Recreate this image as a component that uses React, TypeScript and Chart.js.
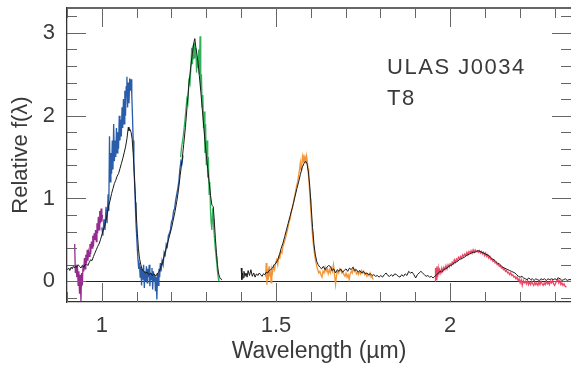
import React, { useEffect, useRef } from 'react';
import { Chart, registerables } from 'chart.js';
Chart.register(...registerables);

const X_MIN = 0.9;
const X_MAX = 2.347;
const Y_MIN = -0.25;
const Y_MAX = 3.3;
const xTickLabels = [1, 1.5, 2];
const yTickLabels = [0, 1, 2, 3];
const xTitle = 'Wavelength (µm)';
const yTitle = 'Relative f(λ)';
const labelLines = ['ULAS J0034', 'T8'];
const LABEL_X = 1.819;
const LABEL_Y = [2.5, 2.13];

// black comparison spectrum (two pieces, gap between them)
const blackA: [number, number][] = [
  [0.901, 0.14], [0.905, 0.16], [0.908, 0.13], [0.912, 0.17], [0.915, 0.15], [0.918, 0.18], [0.922, 0.16],
  [0.925, 0.19], [0.928, 0.17], [0.932, 0.2], [0.936, 0.18], [0.94, 0.16], [0.944, 0.19], [0.948, 0.17],
  [0.952, 0.2], [0.956, 0.21], [0.96, 0.19], [0.964, 0.23], [0.968, 0.26], [0.972, 0.25], [0.976, 0.3],
  [0.98, 0.34], [0.984, 0.38], [0.988, 0.42], [0.992, 0.45], [0.996, 0.5], [1.0, 0.56], [1.004, 0.62],
  [1.008, 0.66], [1.012, 0.74], [1.016, 0.82], [1.02, 0.92], [1.024, 0.98], [1.028, 1.06], [1.032, 1.12],
  [1.036, 1.18], [1.04, 1.22], [1.044, 1.27], [1.048, 1.3], [1.052, 1.36], [1.056, 1.42], [1.06, 1.48],
  [1.064, 1.55], [1.068, 1.62], [1.072, 1.72], [1.076, 1.86], [1.078, 1.82], [1.08, 1.84], [1.084, 1.8],
  [1.087, 1.72], [1.09, 1.55], [1.093, 1.3], [1.096, 1.05], [1.099, 0.8], [1.102, 0.58], [1.105, 0.4],
  [1.108, 0.28], [1.112, 0.2], [1.116, 0.14], [1.12, 0.12], [1.125, 0.1], [1.13, 0.11], [1.135, 0.08],
  [1.14, 0.1], [1.145, 0.07], [1.15, 0.09], [1.155, 0.06], [1.16, 0.1], [1.165, 0.12], [1.17, 0.18],
  [1.175, 0.24], [1.18, 0.32], [1.185, 0.4], [1.19, 0.48], [1.195, 0.56], [1.2, 0.64], [1.205, 0.74],
  [1.21, 0.84], [1.215, 0.96], [1.22, 1.1], [1.225, 1.28], [1.23, 1.45], [1.235, 1.65], [1.24, 1.86],
  [1.245, 2.12], [1.25, 2.38], [1.255, 2.58], [1.26, 2.75], [1.264, 2.88], [1.267, 2.93], [1.27, 2.82],
  [1.273, 2.74], [1.276, 2.65], [1.28, 2.48], [1.284, 2.3], [1.288, 2.1], [1.292, 1.9], [1.296, 1.7],
  [1.3, 1.52], [1.304, 1.36], [1.308, 1.2], [1.312, 1.04], [1.316, 0.92], [1.32, 0.9], [1.323, 0.72],
  [1.326, 0.52], [1.329, 0.35], [1.332, 0.2], [1.335, 0.1], [1.338, 0.05], [1.341, 0.03], [1.345, 0.02],
];

const blackB: [number, number][] = [
  [1.4, 0.16], [1.402, 0.02], [1.404, 0.1], [1.406, 0.04], [1.408, 0.12], [1.411, 0.06], [1.414, 0.1],
  [1.417, 0.05], [1.42, 0.13], [1.424, 0.07], [1.428, 0.14], [1.432, 0.06], [1.436, 0.1], [1.44, 0.05],
  [1.444, 0.09], [1.448, 0.07], [1.452, 0.1], [1.456, 0.08], [1.46, 0.06], [1.464, 0.09], [1.468, 0.08],
  [1.472, 0.11], [1.476, 0.1], [1.48, 0.13], [1.485, 0.14], [1.49, 0.16], [1.495, 0.2], [1.5, 0.22],
  [1.505, 0.26], [1.51, 0.32], [1.515, 0.4], [1.52, 0.46], [1.525, 0.54], [1.53, 0.62], [1.535, 0.7],
  [1.54, 0.78], [1.545, 0.86], [1.55, 0.94], [1.555, 1.03], [1.56, 1.12], [1.565, 1.2], [1.57, 1.29],
  [1.575, 1.37], [1.58, 1.42], [1.585, 1.45], [1.589, 1.42], [1.593, 1.32], [1.597, 1.15], [1.601, 0.9],
  [1.605, 0.65], [1.609, 0.45], [1.613, 0.32], [1.617, 0.24], [1.621, 0.2], [1.626, 0.17], [1.631, 0.15],
  [1.636, 0.18], [1.641, 0.14], [1.646, 0.17], [1.651, 0.19], [1.656, 0.18], [1.661, 0.13], [1.666, 0.15],
  [1.671, 0.1], [1.676, 0.14], [1.681, 0.12], [1.686, 0.15], [1.691, 0.11], [1.696, 0.13], [1.701, 0.15],
  [1.706, 0.12], [1.711, 0.16], [1.716, 0.14], [1.721, 0.17], [1.726, 0.13], [1.731, 0.14], [1.736, 0.11],
  [1.741, 0.13], [1.746, 0.1], [1.751, 0.12], [1.756, 0.09], [1.761, 0.1], [1.766, 0.08], [1.771, 0.09],
  [1.776, 0.07], [1.781, 0.08], [1.786, 0.06], [1.791, 0.07], [1.796, 0.05], [1.801, 0.07], [1.806, 0.05],
  [1.811, 0.08], [1.816, 0.1], [1.821, 0.07], [1.826, 0.06], [1.831, 0.08], [1.836, 0.06], [1.841, 0.09],
  [1.846, 0.08], [1.851, 0.06], [1.856, 0.05], [1.861, 0.08], [1.866, 0.06], [1.871, 0.09], [1.876, 0.07],
  [1.881, 0.12], [1.886, 0.1], [1.891, 0.11], [1.896, 0.08], [1.901, 0.04], [1.906, 0.08], [1.911, 0.1],
  [1.916, 0.12], [1.921, 0.1], [1.926, 0.08], [1.931, 0.06], [1.936, 0.07], [1.941, 0.05], [1.946, 0.06],
  [1.951, 0.04], [1.956, 0.06], [1.961, 0.08], [1.966, 0.1], [1.971, 0.12], [1.976, 0.11], [1.981, 0.14],
  [1.986, 0.15], [1.991, 0.16], [1.996, 0.18], [2.001, 0.19], [2.006, 0.2], [2.011, 0.22], [2.016, 0.23],
  [2.021, 0.24], [2.026, 0.26], [2.031, 0.27], [2.036, 0.28], [2.041, 0.29], [2.046, 0.31], [2.051, 0.32],
  [2.056, 0.33], [2.061, 0.34], [2.066, 0.35], [2.071, 0.35], [2.076, 0.36], [2.081, 0.37], [2.086, 0.36],
  [2.091, 0.35], [2.096, 0.34], [2.101, 0.33], [2.106, 0.32], [2.111, 0.31], [2.116, 0.29], [2.121, 0.27],
  [2.126, 0.26], [2.131, 0.24], [2.136, 0.22], [2.141, 0.21], [2.146, 0.19], [2.151, 0.17], [2.156, 0.16],
  [2.161, 0.15], [2.166, 0.14], [2.171, 0.13], [2.176, 0.12], [2.181, 0.11], [2.186, 0.1], [2.191, 0.08],
  [2.196, 0.06], [2.201, 0.05], [2.206, 0.06], [2.211, 0.04], [2.216, 0.03], [2.221, 0.02], [2.226, 0.04],
  [2.231, 0.02], [2.236, 0.03], [2.241, 0.01], [2.246, 0.03], [2.251, 0.02], [2.256, 0.01], [2.261, 0.03],
  [2.266, 0.02], [2.271, 0.03], [2.276, 0.01], [2.281, 0.03], [2.286, 0.02], [2.291, 0.03], [2.296, 0.02],
  [2.301, 0.03], [2.306, 0.02], [2.311, 0.04], [2.316, 0.03], [2.321, 0.01], [2.326, 0.02], [2.331, 0.03],
  [2.336, 0.01], [2.341, 0.02], [2.347, 0.02],
];

const purple: [number, number][] = [
  [0.922, 0.45], [0.924, 0.1], [0.926, 0.2], [0.928, 0.05], [0.93, 0.18], [0.932, -0.05], [0.934, 0.12],
  [0.936, -0.15], [0.938, 0.08], [0.94, -0.24], [0.942, 0.1], [0.944, -0.05], [0.946, 0.2], [0.948, 0.12],
  [0.95, 0.28], [0.952, 0.15], [0.954, 0.32], [0.956, 0.22], [0.958, 0.38], [0.96, 0.25], [0.962, 0.35],
  [0.964, 0.3], [0.966, 0.45], [0.968, 0.33], [0.97, 0.48], [0.972, 0.4], [0.974, 0.55], [0.976, 0.42],
  [0.978, 0.58], [0.98, 0.5], [0.982, 0.62], [0.984, 0.48], [0.986, 0.7], [0.988, 0.58], [0.99, 0.78],
  [0.992, 0.62], [0.994, 0.85], [0.996, 0.7], [0.998, 0.88], [1.0, 0.72], [1.002, 0.8],
];

const blue: [number, number][] = [
  [1.0, 0.65], [1.003, 0.55], [1.006, 0.75], [1.009, 0.62], [1.012, 0.9], [1.015, 0.7], [1.018, 1.05],
  [1.02, 0.85], [1.022, 1.75], [1.024, 1.2], [1.026, 1.55], [1.028, 1.3], [1.03, 1.7], [1.032, 1.35],
  [1.034, 1.9], [1.036, 1.45], [1.038, 1.7], [1.04, 1.5], [1.042, 1.85], [1.044, 1.55], [1.046, 1.8],
  [1.048, 1.6], [1.05, 2.0], [1.052, 1.7], [1.054, 1.95], [1.056, 1.75], [1.058, 2.1], [1.06, 1.85],
  [1.062, 2.2], [1.064, 1.9], [1.066, 2.3], [1.068, 2.0], [1.07, 2.35], [1.072, 2.47], [1.074, 2.1],
  [1.076, 2.4], [1.078, 2.15], [1.08, 2.45], [1.082, 2.3], [1.084, 2.44], [1.086, 2.25], [1.088, 2.0],
  [1.09, 1.7], [1.092, 1.45], [1.094, 1.2], [1.096, 0.95], [1.098, 0.7], [1.1, 0.55], [1.102, 0.38],
  [1.104, 0.25], [1.106, 0.15], [1.108, 0.22], [1.11, 0.05], [1.112, 0.18], [1.114, -0.05], [1.116, 0.15],
  [1.118, 0.02], [1.12, 0.2], [1.122, -0.08], [1.124, 0.12], [1.126, 0.0], [1.128, 0.18], [1.13, -0.02],
  [1.132, 0.15], [1.134, 0.05], [1.136, 0.2], [1.138, -0.06], [1.14, 0.1], [1.142, 0.02], [1.144, 0.16],
  [1.146, -0.1], [1.148, 0.12], [1.15, 0.0], [1.152, 0.08], [1.154, -0.12], [1.156, 0.05], [1.158, -0.22],
  [1.16, 0.1], [1.162, -0.05], [1.164, 0.15], [1.166, 0.05], [1.168, 0.22], [1.17, 0.12], [1.173, 0.25],
  [1.176, 0.2], [1.179, 0.35], [1.182, 0.32], [1.185, 0.45], [1.188, 0.42], [1.191, 0.55], [1.194, 0.58],
  [1.197, 0.62], [1.2, 0.72], [1.203, 0.75], [1.206, 0.85], [1.209, 0.88], [1.212, 0.98], [1.215, 1.05],
  [1.218, 1.12], [1.221, 1.2], [1.224, 1.35], [1.227, 1.45], [1.23, 1.42], [1.233, 1.52],
];

const green: [number, number][] = [
  [1.226, 1.5], [1.229, 1.62], [1.232, 1.7], [1.235, 1.8], [1.238, 1.92], [1.241, 2.05], [1.244, 2.2],
  [1.247, 2.15], [1.25, 2.42], [1.253, 2.38], [1.256, 2.6], [1.258, 2.82], [1.26, 2.62], [1.262, 2.85],
  [1.264, 2.68], [1.266, 2.88], [1.268, 2.7], [1.27, 2.82], [1.272, 2.52], [1.274, 2.7], [1.276, 2.58],
  [1.278, 2.8], [1.28, 2.5], [1.282, 2.96], [1.284, 2.3], [1.286, 2.5], [1.288, 2.1], [1.29, 2.25],
  [1.292, 1.85], [1.294, 2.05], [1.296, 1.55], [1.298, 1.9], [1.3, 1.4], [1.302, 1.7], [1.304, 1.25],
  [1.306, 1.5], [1.308, 1.05], [1.31, 1.2], [1.312, 0.85], [1.314, 0.7], [1.316, 0.62], [1.318, 0.88],
  [1.32, 0.75], [1.322, 0.6], [1.324, 0.48], [1.326, 0.38], [1.328, 0.3], [1.33, 0.22], [1.332, 0.12],
  [1.334, 0.05], [1.336, 0.0],
];

const orange: [number, number][] = [
  [1.47, 0.05], [1.472, 0.22], [1.474, -0.04], [1.476, 0.15], [1.478, 0.02], [1.48, 0.18], [1.482, 0.06],
  [1.484, 0.12], [1.486, -0.02], [1.488, 0.14], [1.49, 0.1], [1.493, 0.18], [1.496, 0.14], [1.499, 0.22],
  [1.502, 0.26], [1.505, 0.2], [1.508, 0.3], [1.511, 0.28], [1.514, 0.36], [1.517, 0.34], [1.52, 0.42],
  [1.523, 0.46], [1.526, 0.5], [1.529, 0.55], [1.532, 0.6], [1.535, 0.66], [1.538, 0.72], [1.541, 0.76],
  [1.544, 0.84], [1.547, 0.88], [1.55, 0.95], [1.553, 1.02], [1.556, 1.08], [1.559, 1.15], [1.562, 1.2],
  [1.565, 1.28], [1.568, 1.36], [1.57, 1.43], [1.572, 1.35], [1.574, 1.4], [1.576, 1.5], [1.578, 1.44],
  [1.58, 1.53], [1.582, 1.46], [1.584, 1.49], [1.586, 1.42], [1.588, 1.51], [1.59, 1.45], [1.592, 1.36],
  [1.594, 1.25], [1.596, 1.12], [1.598, 1.0], [1.6, 0.86], [1.602, 0.72], [1.604, 0.6], [1.606, 0.5],
  [1.608, 0.42], [1.611, 0.32], [1.614, 0.24], [1.617, 0.18], [1.62, 0.14], [1.623, 0.1], [1.626, 0.12],
  [1.629, 0.08], [1.632, 0.05], [1.635, 0.12], [1.638, 0.1], [1.641, 0.17], [1.644, 0.12], [1.647, 0.15],
  [1.65, 0.09], [1.653, 0.14], [1.656, 0.1], [1.659, 0.16], [1.662, 0.12], [1.665, 0.2], [1.668, 0.08],
  [1.671, -0.04], [1.674, 0.08], [1.677, 0.12], [1.68, 0.1], [1.683, 0.15], [1.686, 0.13], [1.689, 0.1],
  [1.692, 0.12], [1.695, 0.08], [1.698, 0.06], [1.701, 0.1], [1.704, 0.05], [1.707, 0.08], [1.71, 0.02],
  [1.713, 0.09], [1.716, 0.12], [1.719, 0.1], [1.722, 0.16], [1.725, 0.12], [1.728, 0.14], [1.731, 0.09],
  [1.734, 0.11], [1.737, 0.08], [1.74, 0.12], [1.743, 0.09], [1.746, 0.13], [1.749, 0.1], [1.752, 0.12],
  [1.755, 0.08], [1.758, 0.1], [1.761, 0.06], [1.764, 0.09], [1.767, 0.07], [1.77, 0.1], [1.773, 0.05],
  [1.776, 0.06], [1.779, 0.02],
];

const red: [number, number][] = [
  [1.957, 0.0], [1.958, 0.16], [1.96, 0.02], [1.962, 0.18], [1.964, 0.05], [1.966, 0.15], [1.968, 0.08],
  [1.97, 0.14], [1.973, 0.1], [1.976, 0.16], [1.979, 0.12], [1.982, 0.17], [1.985, 0.14], [1.988, 0.19],
  [1.991, 0.15], [1.994, 0.2], [1.997, 0.17], [2.0, 0.21], [2.003, 0.19], [2.006, 0.23], [2.009, 0.21],
  [2.012, 0.26], [2.015, 0.23], [2.018, 0.27], [2.021, 0.25], [2.024, 0.29], [2.027, 0.27], [2.03, 0.3],
  [2.033, 0.28], [2.036, 0.32], [2.039, 0.3], [2.042, 0.33], [2.045, 0.31], [2.048, 0.35], [2.051, 0.32],
  [2.054, 0.36], [2.057, 0.34], [2.06, 0.37], [2.063, 0.34], [2.066, 0.38], [2.069, 0.35], [2.072, 0.38],
  [2.075, 0.36], [2.078, 0.37], [2.081, 0.35], [2.084, 0.37], [2.087, 0.34], [2.09, 0.36], [2.093, 0.33],
  [2.096, 0.35], [2.099, 0.31], [2.102, 0.34], [2.105, 0.3], [2.108, 0.32], [2.111, 0.28], [2.114, 0.3],
  [2.117, 0.26], [2.12, 0.27], [2.123, 0.24], [2.126, 0.25], [2.129, 0.22], [2.132, 0.23], [2.135, 0.2],
  [2.138, 0.21], [2.141, 0.18], [2.144, 0.19], [2.147, 0.16], [2.15, 0.17], [2.153, 0.14], [2.156, 0.15],
  [2.159, 0.12], [2.162, 0.13], [2.165, 0.1], [2.168, 0.11], [2.171, 0.08], [2.174, 0.1], [2.177, 0.07],
  [2.18, 0.08], [2.183, 0.05], [2.186, 0.06], [2.189, 0.03], [2.192, 0.05], [2.195, 0.01], [2.198, 0.03],
  [2.201, -0.02], [2.204, 0.02], [2.207, -0.05], [2.21, 0.01], [2.213, -0.02], [2.216, 0.0], [2.219, -0.03],
  [2.222, 0.01], [2.225, -0.04], [2.228, -0.01], [2.231, -0.04], [2.234, 0.0], [2.237, -0.03], [2.24, -0.05],
  [2.243, -0.01], [2.246, -0.04], [2.249, -0.02], [2.252, -0.05], [2.255, -0.01], [2.258, -0.04], [2.261, 0.0],
  [2.264, -0.03], [2.267, -0.05], [2.27, -0.02], [2.273, -0.04], [2.276, 0.0], [2.279, -0.03], [2.282, -0.01],
  [2.285, -0.04], [2.288, 0.0], [2.291, -0.02], [2.294, 0.01], [2.297, -0.03], [2.3, -0.05], [2.303, -0.02],
  [2.306, 0.0], [2.309, 0.03], [2.312, -0.02], [2.315, 0.01], [2.318, -0.04], [2.321, -0.02], [2.324, -0.05],
  [2.327, -0.03], [2.33, -0.06], [2.334, -0.07],
];

const FONT = "'Liberation Sans', Arial, sans-serif";
const TEXT_COLOR = '#3a3a3a';

const toXY = (arr: [number, number][]) => arr.map(([x, y]) => ({ x, y }));

const framePlugin = {
  id: 'frame',
  afterDatasetsDraw(chart: any) {
    const { ctx, chartArea, scales } = chart;
    const xs = scales.x;
    const ys = scales.y;
    const { left, right, top, bottom } = chartArea;
    ctx.save();
    // top border
    ctx.strokeStyle = '#333';
    ctx.lineWidth = 1.3;
    ctx.beginPath();
    ctx.moveTo(left, top);
    ctx.lineTo(right, top);
    ctx.stroke();
    // inward ticks
    ctx.strokeStyle = '#666';
    ctx.lineWidth = 1;
    ctx.beginPath();
    for (let i = Math.ceil(X_MIN * 10); i <= Math.floor(X_MAX * 10); i++) {
      const px = Math.round(xs.getPixelForValue(i / 10)) + 0.5;
      const len = i % 5 === 0 ? 19 : 10;
      ctx.moveTo(px, bottom);
      ctx.lineTo(px, bottom - len);
      ctx.moveTo(px, top);
      ctx.lineTo(px, top + len);
    }
    for (let j = Math.ceil(Y_MIN * 5); j <= Math.floor(Y_MAX * 5); j++) {
      const py = Math.round(ys.getPixelForValue(j / 5)) + 0.5;
      const len = j % 5 === 0 ? 19 : 10;
      ctx.moveTo(left, py);
      ctx.lineTo(left + len, py);
      ctx.moveTo(right, py);
      ctx.lineTo(right - len, py);
    }
    ctx.stroke();
    // annotation
    ctx.fillStyle = TEXT_COLOR;
    ctx.font = `22px ${FONT}`;
    ctx.textAlign = 'left';
    ctx.textBaseline = 'alphabetic';
    try { (ctx as any).letterSpacing = '1.5px'; } catch (e) { /* ignore */ }
    labelLines.forEach((t, i) => {
      ctx.fillText(t, xs.getPixelForValue(LABEL_X), ys.getPixelForValue(LABEL_Y[i]));
    });
    ctx.restore();
  },
};

export default function App() {
  const ref = useRef<HTMLCanvasElement>(null);
  useEffect(() => {
    if (!ref.current) return;
    const line = (data: [number, number][], color: string, width: number) => ({
      data: toXY(data),
      borderColor: color,
      borderWidth: width,
      pointRadius: 0,
      tension: 0,
      fill: false,
    });
    const chart = new Chart(ref.current, {
      type: 'line',
      data: {
        datasets: [
          line(blackA, '#1a1a1a', 1),
          line(blackB, '#1a1a1a', 1),
          line(purple, '#962b8f', 1.3),
          line(blue, '#2a5caa', 1.3),
          line(green, '#33b15a', 1.3),
          line(orange, '#f39536', 1.3),
          line(red, '#ec4665', 1.3),
        ] as any,
      },
      options: {
        responsive: false,
        animation: false,
        devicePixelRatio: 1,
        layout: { padding: { top: 8, right: 0, left: 0, bottom: 0 } },
        plugins: { legend: { display: false }, tooltip: { enabled: false } },
        scales: {
          x: {
            type: 'linear',
            position: 'bottom',
            min: X_MIN,
            max: X_MAX,
            grid: { display: false },
            border: { display: true, color: '#333', width: 1.3 },
            afterBuildTicks: (s: any) => {
              s.ticks = xTickLabels.map((v) => ({ value: v }));
            },
            afterFit: (s: any) => {
              s.height = 65;
              s.paddingLeft = 0;
              s.paddingRight = 0;
            },
            ticks: {
              padding: 3,
              maxRotation: 0,
              autoSkip: false,
              color: TEXT_COLOR,
              font: { family: FONT, size: 22 },
              callback: (v: any) => String(v),
            },
            title: {
              display: true,
              text: xTitle,
              color: TEXT_COLOR,
              font: { family: FONT, size: 23 },
              padding: { top: 0, bottom: 2 },
            },
          },
          y: {
            type: 'linear',
            min: Y_MIN,
            max: Y_MAX,
            grid: {
              display: true,
              drawTicks: false,
              color: (c: any) => (c.tick && c.tick.value === 0 ? '#222' : 'rgba(0,0,0,0)'),
              lineWidth: 1,
            },
            border: { display: true, color: '#333', width: 1.3 },
            afterBuildTicks: (s: any) => {
              s.ticks = yTickLabels.map((v) => ({ value: v }));
            },
            afterFit: (s: any) => {
              s.width = 67;
              s.paddingTop = 0;
              s.paddingBottom = 0;
            },
            ticks: {
              padding: 12,
              color: TEXT_COLOR,
              font: { family: FONT, size: 22 },
              callback: (v: any) => String(v),
            },
            title: {
              display: true,
              text: yTitle,
              color: TEXT_COLOR,
              font: { family: FONT, size: 22 },
              padding: { top: 8, bottom: 0 },
            },
          },
        },
      },
      plugins: [framePlugin],
    } as any);
    return () => chart.destroy();
  }, []);
  return (
    <div style={{ position: 'fixed', left: 0, top: 0, width: 571, height: 367, background: '#fff' }}>
      <canvas ref={ref} width={571} height={367} style={{ width: 571, height: 367, display: 'block' }} />
    </div>
  );
}
